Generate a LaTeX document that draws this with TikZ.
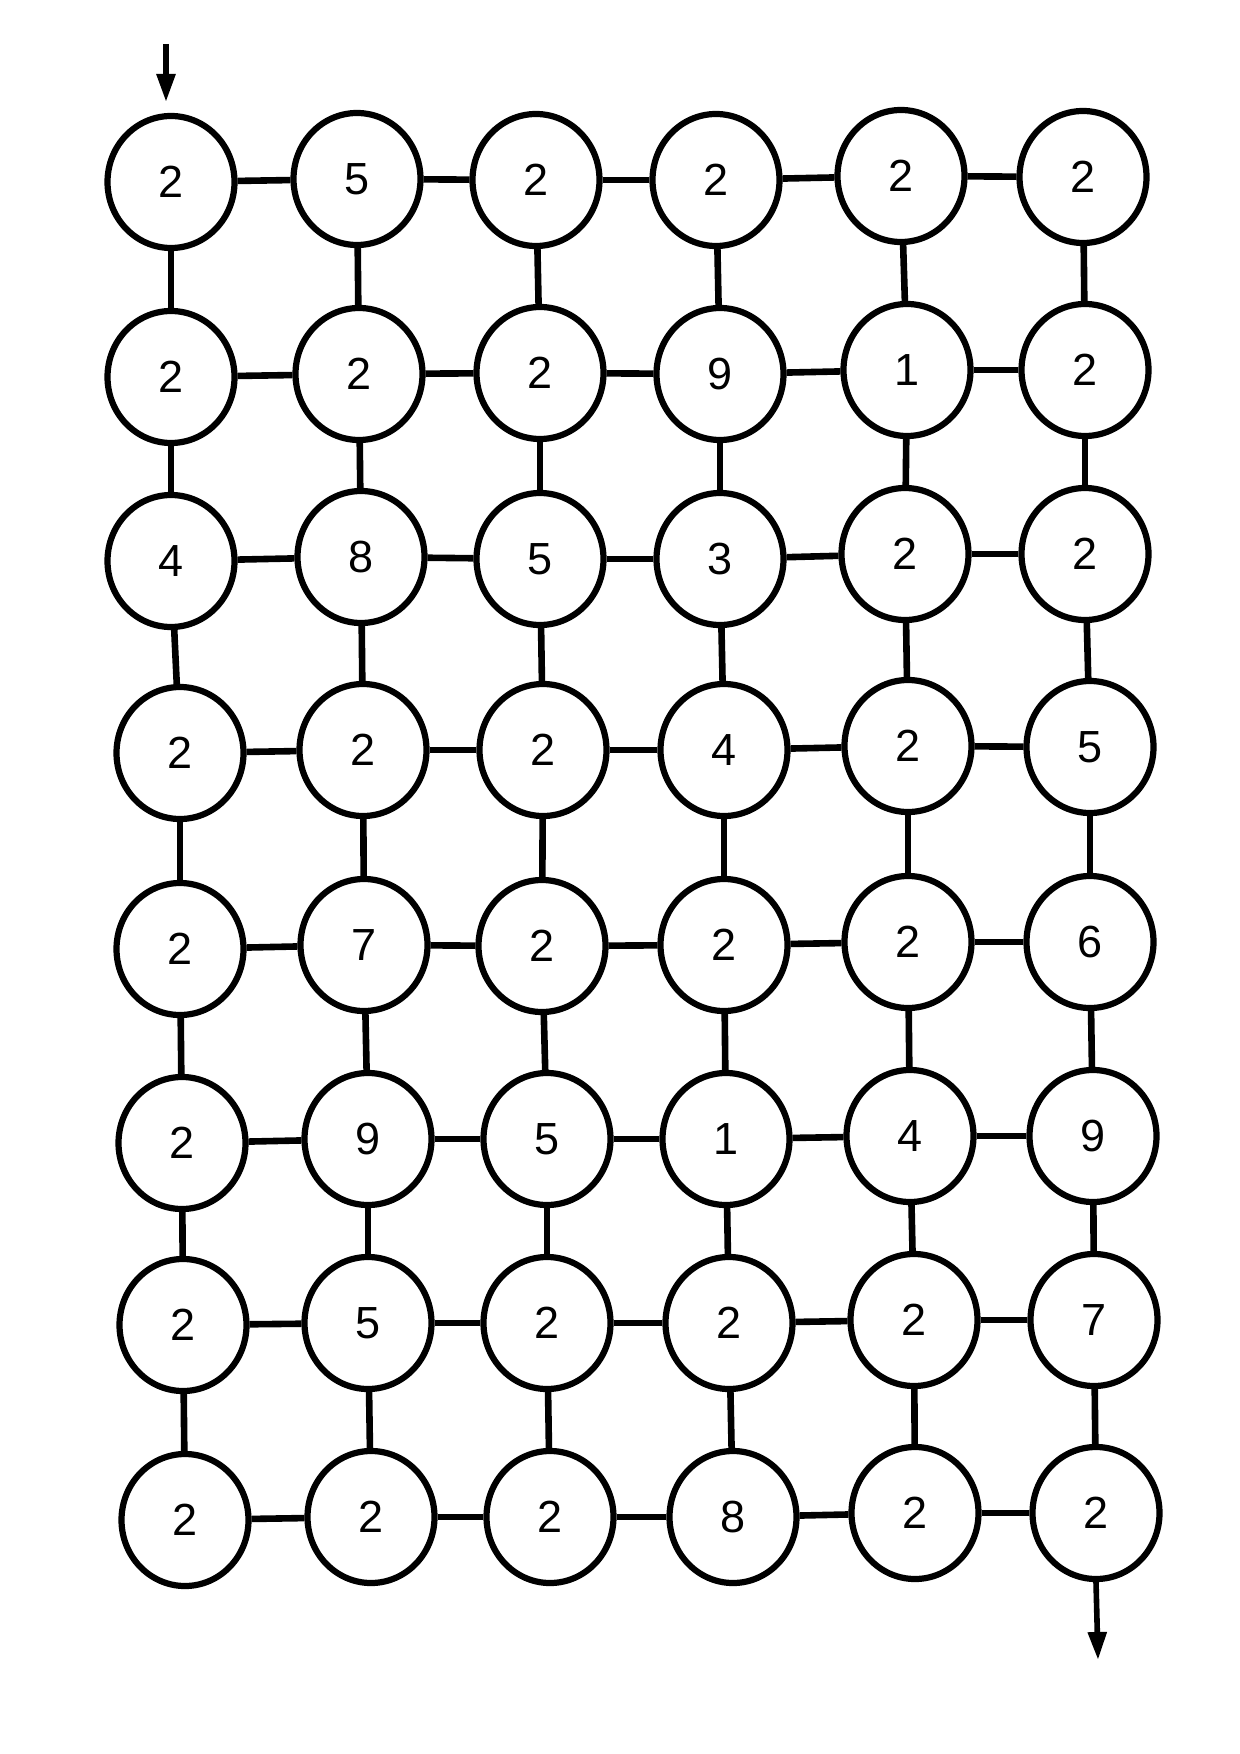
\documentclass[tikz,border=0pt]{standalone}
\usepackage{fontspec}
\setmainfont{Liberation Sans}
\usetikzlibrary{shapes.geometric,arrows.meta}
\begin{document}
\begin{tikzpicture}[x=0.5pt,y=-0.5pt,
  cell/.style={ellipse,draw,line width=3.1pt,minimum width=63.5pt,minimum height=66pt,inner sep=0pt,font=\fontsize{22.5}{22.5}\selectfont},
  link/.style={line width=3.3pt},
  flow/.style={line width=2.8pt,-{Triangle[width=9pt,length=14pt]}}]
\useasboundingbox (0,0) rectangle (1240,1754);
\fill[white] (0,0) rectangle (1240,1754);
% row 1
\node[cell] (n11) at (171,182) {2};
\node[cell] (n12) at (357,179) {5};
\node[cell] (n13) at (536,180) {2};
\node[cell] (n14) at (716,180) {2};
\node[cell] (n15) at (901,176) {2};
\node[cell] (n16) at (1083,177) {2};
% row 2
\node[cell] (n21) at (171,377) {2};
\node[cell] (n22) at (359,374) {2};
\node[cell] (n23) at (540,373) {2};
\node[cell] (n24) at (720,374) {9};
\node[cell] (n25) at (907,370) {1};
\node[cell] (n26) at (1085,370) {2};
% row 3
\node[cell] (n31) at (171,561) {4};
\node[cell] (n32) at (361,557) {8};
\node[cell] (n33) at (540,559) {5};
\node[cell] (n34) at (720,559) {3};
\node[cell] (n35) at (905,554) {2};
\node[cell] (n36) at (1085,554) {2};
% row 4
\node[cell] (n41) at (180,753) {2};
\node[cell] (n42) at (363,750) {2};
\node[cell] (n43) at (543,750) {2};
\node[cell] (n44) at (724,750) {4};
\node[cell] (n45) at (908,746) {2};
\node[cell] (n46) at (1090,747) {5};
% row 5
\node[cell] (n51) at (180,949) {2};
\node[cell] (n52) at (364,945) {7};
\node[cell] (n53) at (542,946) {2};
\node[cell] (n54) at (724,945) {2};
\node[cell] (n55) at (908,942) {2};
\node[cell] (n56) at (1090,942) {6};
% row 6
\node[cell] (n61) at (182,1143) {2};
\node[cell] (n62) at (368,1139) {9};
\node[cell] (n63) at (547,1139) {5};
\node[cell] (n64) at (726,1139) {1};
\node[cell] (n65) at (910,1136) {4};
\node[cell] (n66) at (1093,1136) {9};
% row 7
\node[cell] (n71) at (183,1325) {2};
\node[cell] (n72) at (368,1323) {5};
\node[cell] (n73) at (547,1323) {2};
\node[cell] (n74) at (729,1323) {2};
\node[cell] (n75) at (914,1320) {2};
\node[cell] (n76) at (1094,1320) {7};
% row 8
\node[cell] (n81) at (185,1520) {2};
\node[cell] (n82) at (371,1517) {2};
\node[cell] (n83) at (550,1517) {2};
\node[cell] (n84) at (733,1517) {8};
\node[cell] (n85) at (915,1513) {2};
\node[cell] (n86) at (1096,1513) {2};
% horizontal links
\foreach \r in {1,...,8}{
  \foreach \c in {1,...,5}{
    \pgfmathtruncatemacro{\d}{\c+1}
    \draw[link] (n\r\c) -- (n\r\d);
  }
}
% vertical links
\foreach \r in {1,...,7}{
  \pgfmathtruncatemacro{\s}{\r+1}
  \foreach \c in {1,...,6}{
    \draw[link] (n\r\c) -- (n\s\c);
  }
}
% entry and exit arrows
\coordinate (inA) at (166,44);
\coordinate (inB) at (166,102);
\draw[flow] (inA) -- (inB);
\coordinate (outB) at (1098,1660);
\draw[flow] (n86.south) -- (outB);
\end{tikzpicture}
\end{document}
